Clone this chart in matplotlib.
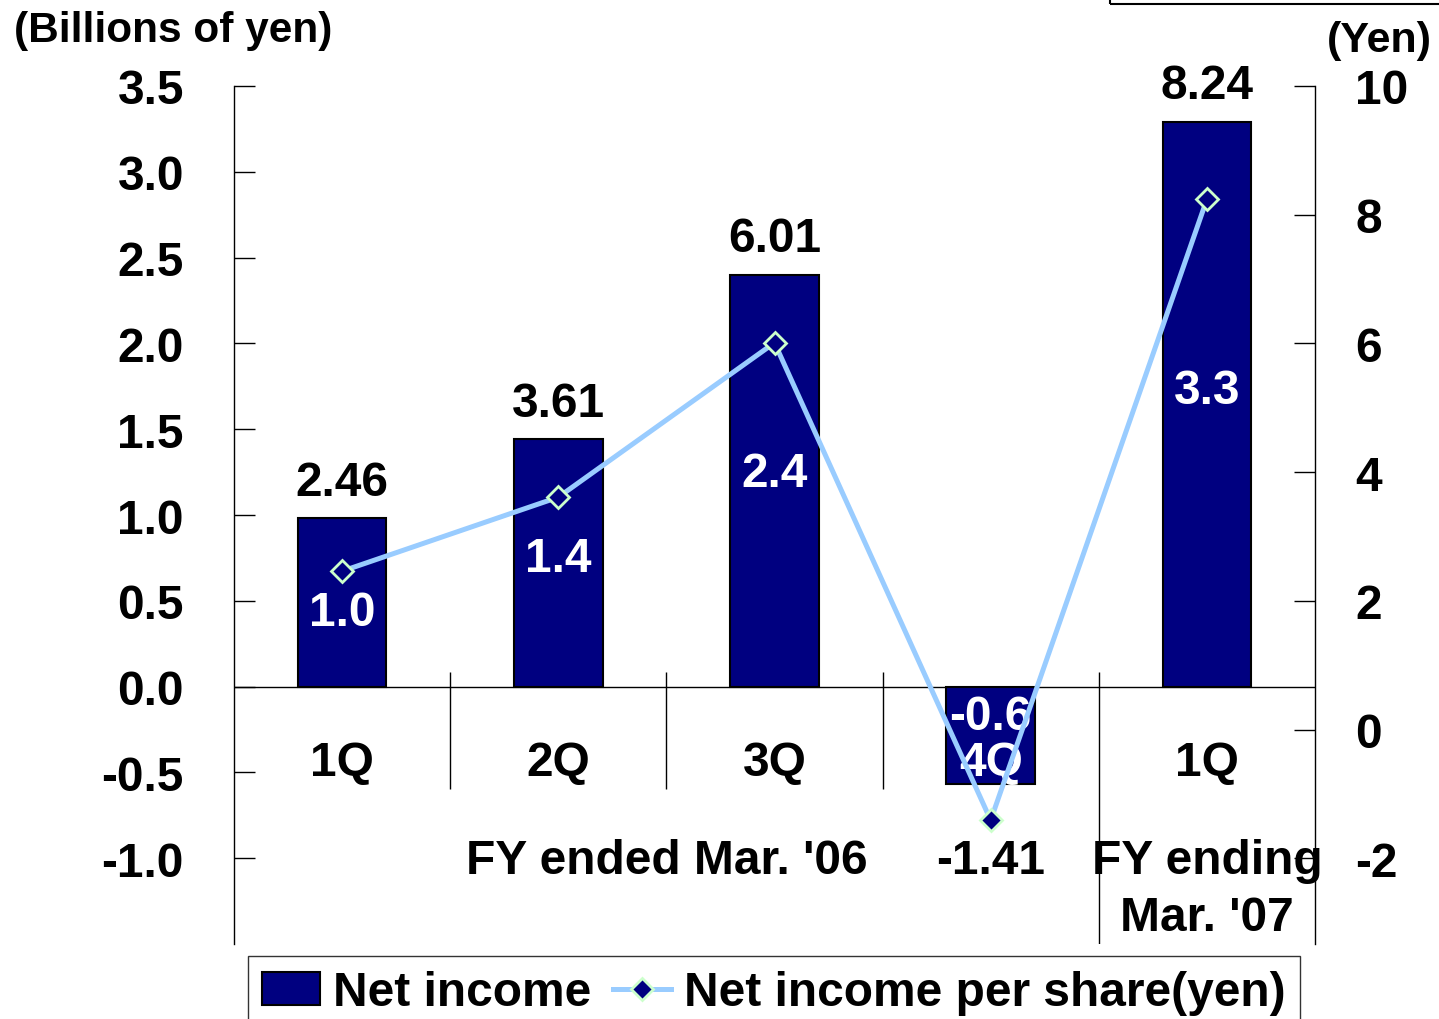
import matplotlib
matplotlib.use('Agg')
import matplotlib.pyplot as plt
from matplotlib.patches import Patch, Rectangle
from matplotlib.lines import Line2D
import numpy as np

# data
quarters = ['1Q', '2Q', '3Q', '4Q', '1Q']
net_income = [0.98, 1.44, 2.40, -0.57, 3.29]      # billions of yen
eps = [2.46, 3.61, 6.01, -1.41, 8.24]             # yen per share
left_ticks = [-1.0, -0.5, 0.0, 0.5, 1.0, 1.5, 2.0, 2.5, 3.0, 3.5]
right_ticks = [-2, 0, 2, 4, 6, 8, 10]

# vertical nudges (points) of the in-bar value labels, as in the original
inner_nudge = [-7, 3, 5, 14, 10]

navy = '#000080'
light_blue = '#99CCFF'
light_green = '#CCFFCC'
fs = 34.5

plt.rcParams['font.family'] = ['Liberation Sans', 'DejaVu Sans']
plt.rcParams['font.weight'] = 'bold'


def main():
    W, H = 1439, 1020
    fig = plt.figure(figsize=(W / 100, H / 100), dpi=100)
    ax = fig.add_axes([234 / W, 1 - 945 / H, (1315 - 234) / W, (945 - 87) / H])
    x = np.arange(len(quarters))

    ax.bar(x, net_income, width=0.41, color=navy, edgecolor='black', linewidth=1.5, zorder=2)
    ax.set_xlim(-0.5, len(quarters) - 0.5)
    ax.set_ylim(-1.5, 3.5)
    ax.set_yticks(left_ticks)
    ax.set_yticklabels(['%.1f' % t for t in left_ticks])
    ax.tick_params(axis='y', direction='in', length=15, width=1, pad=36, labelsize=fs)
    ax.set_xticks([])
    for s in ['top', 'bottom']:
        ax.spines[s].set_visible(False)
    ax.spines['left'].set_linewidth(1)
    ax.spines['right'].set_linewidth(1)
    ax.axhline(0, color='black', lw=1, zorder=1)

    # category separators
    ax.vlines([0.5, 1.5, 2.5], -0.594, 0.087, color='black', lw=1)
    ax.vlines([3.5], -1.5, 0.087, color='black', lw=1)

    # category labels
    for i, q in enumerate(quarters):
        col = 'white' if net_income[i] < 0 else 'black'
        ax.text(i, -0.445, q, ha='center', va='center', fontsize=fs, color=col, zorder=5)
    ax.text(1.5, -1.015, "FY ended Mar. '06", ha='center', va='center', fontsize=fs)
    ax.text(4, -1.015, "FY ending", ha='center', va='center', fontsize=fs)
    ax.text(4, -1.345, "Mar. '07", ha='center', va='center', fontsize=fs)

    # values inside bars
    for i, v in enumerate(net_income):
        ax.annotate('%.1f' % v, (i, v / 2), xytext=(0, inner_nudge[i]), textcoords='offset points',
                    ha='center', va='center', fontsize=fs, color='white', zorder=6)

    ax2 = ax.twinx()
    ax2.set_ylim(-10 / 3, 10)
    ax2.set_yticks(right_ticks)
    ax2.set_yticklabels([str(t) for t in right_ticks])
    ax2.tick_params(axis='y', direction='in', length=15, width=1, pad=29, labelsize=fs)
    for s in ['top', 'bottom', 'left', 'right']:
        ax2.spines[s].set_visible(False)
    ax2.plot(x, eps, color=light_blue, lw=3.6, marker='D', markersize=11,
             markerfacecolor=navy, markeredgecolor=light_green, markeredgewidth=2, zorder=3)

    # per-share labels
    for i, (v, e) in enumerate(zip(net_income, eps)):
        if v >= 0:
            ax.annotate('%.2f' % e, (i, v), xytext=(0, 26), textcoords='offset points',
                        ha='center', va='center', fontsize=fs)
        else:
            ax2.annotate('%.2f' % e, (i, e), xytext=(0, -29), textcoords='offset points',
                         ha='center', va='center', fontsize=fs)

    fig.text(14 / W, 1 - 31 / H, '(Billions of yen)', ha='left', va='center', fontsize=30.5)
    fig.text(1432 / W, 1 - 41 / H, '(Yen)', ha='right', va='center', fontsize=31)

    # box fragment at the top right
    fig.patches.append(Rectangle((1110 / W, 1 - 5 / H), 0.4, 0.1, fill=False,
                                 edgecolor='black', lw=1.5, transform=fig.transFigure))

    handles = [Patch(facecolor=navy, edgecolor='black', linewidth=1.5),
               Line2D([], [], color=light_blue, lw=3.6, marker='D', markersize=11,
                      markerfacecolor=navy, markeredgecolor=light_green, markeredgewidth=2)]
    leg = fig.legend(handles, ['Net income', 'Net income per share(yen)'],
                     loc='upper left', bbox_to_anchor=(248 / W, 1 - 957 / H),
                     bbox_transform=fig.transFigure, ncol=2, fontsize=fs,
                     frameon=True, fancybox=False, edgecolor='black', borderaxespad=0,
                     borderpad=0.3, handlelength=1.2, handletextpad=0.28,
                     columnspacing=0.45, handleheight=0.7)
    leg.get_frame().set_linewidth(1)

    fig.savefig('out.png', dpi=100)


if __name__ == '__main__':
    main()
